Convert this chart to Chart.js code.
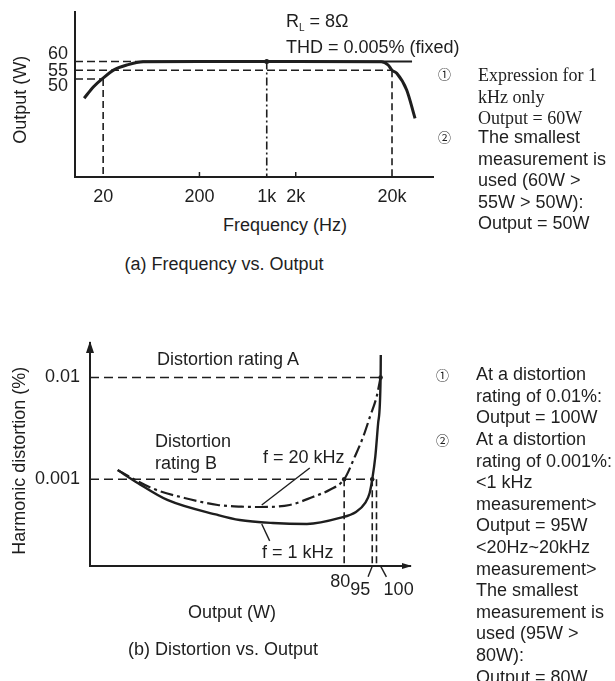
<!DOCTYPE html>
<html>
<head>
<meta charset="utf-8">
<script src="https://cdn.jsdelivr.net/npm/chart.js@4.4.1/dist/chart.umd.min.js"></script>
<style>
html, body { margin: 0; padding: 0; background: #fff; }
body {
  width: 615px; height: 681px; position: relative; overflow: hidden;
  font-family: "Liberation Sans", Arial, sans-serif; font-size: 18px;
  line-height: 21.6px; color: #1e1e1e;
}
.t { position: absolute; white-space: nowrap; }
.c { text-align: center; }
.serif { font-family: "Liberation Serif", "Times New Roman", serif; }
.circ { font-family: "Noto Sans CJK JP", "DejaVu Sans", sans-serif; font-size: 13px; line-height: 21.6px; }
.rot { transform: rotate(-90deg); text-align: center; }
canvas { position: absolute; left: 0; }
</style>
</head>
<body>
<canvas id="freqChart" width="440" height="215" style="top:0"></canvas>
<canvas id="thdChart" width="440" height="280" style="top:330px"></canvas>

<!-- (a) texts -->
<div class="t" style="left:286px;top:11px">R<span style="font-size:10px;vertical-align:-4px">L</span> = 8Ω</div>
<div class="t" style="left:286px;top:37px">THD = 0.005% (fixed)</div>
<div class="t rot" style="left:-44px;top:89px;width:130px">Output (W)</div>
<div class="t c" style="left:185px;top:215px;width:200px">Frequency (Hz)</div>
<div class="t c" style="left:104px;top:254px;width:240px">(a) Frequency vs. Output</div>
<div class="t circ" style="left:438px;top:63px">①</div>
<div class="t serif" style="left:478px;top:65px">Expression for 1<br>kHz only<br>Output = 60W</div>
<div class="t circ" style="left:438px;top:126px">②</div>
<div class="t" style="left:478px;top:127px">The smallest<br>measurement is<br>used (60W &gt;<br>55W &gt; 50W):<br>Output = 50W</div>

<!-- (b) texts -->
<div class="t" style="left:157px;top:349px">Distortion rating A</div>
<div class="t" style="left:155px;top:431px">Distortion<br>rating B</div>
<div class="t" style="left:263px;top:447px">f = 20 kHz</div>
<div class="t" style="left:262px;top:542px">f = 1 kHz</div>
<div class="t rot" style="left:-95px;top:450px;width:230px">Harmonic distortion (%)</div>
<div class="t c" style="left:132px;top:602px;width:200px">Output (W)</div>
<div class="t c" style="left:98px;top:639px;width:250px">(b) Distortion vs. Output</div>
<div class="t circ" style="left:436px;top:364px">①</div>
<div class="t" style="left:476px;top:364px">At a distortion<br>rating of 0.01%:<br>Output = 100W</div>
<div class="t circ" style="left:436px;top:429px">②</div>
<div class="t" style="left:476px;top:429px">At a distortion<br>rating of 0.001%:<br>&lt;1 kHz<br>measurement&gt;<br>Output = 95W<br>&lt;20Hz~20kHz<br>measurement&gt;<br>The smallest<br>measurement is<br>used (95W &gt;<br>80W):<br>Output = 80W</div>

<script>
// (a) Frequency vs. Output
const freqHz  = [12.7, 15.9, 20, 25.6, 35.2, 52.4, 200, 1000, 2000, 15500, 18200, 20000, 22400, 28400, 34700];
const outputW = [39, 45.6, 50.5, 55.1, 58, 59.9, 60, 60, 60, 59.9, 58, 55, 53.3, 43.7, 27.5];
const plateauHz = [50, 32300];
const plateauW  = [60, 60];
const guideLevelsW = [60, 55, 50];
const guideEndsHz  = [50, 20000, 20];
const dropHz    = [20, 1000, 20000];
const dropFromW = [50, 60, 55];
const freqTickValues = [20, 200, 1000, 2000, 20000];
const freqTickLabels = ['20', '200', '1k', '2k', '20k'];
const freqMinorTicks = [200, 2000];
const outTickValues = [60, 55, 50];
const freqRange = [10.2, 53300];
const outRange  = [-6, 88.3];

// (b) Distortion vs. Output
const out1kW = [20.0, 22.6, 27.1, 36.9, 42.2, 51.7, 63.7, 77.9, 86.0, 91.0, 93.5, 95.0, 96.8, 98.5, 100, 100.1];
const thd1k  = [0.00123, 0.00092, 0.000626, 0.000446, 0.000398, 0.000372, 0.000364, 0.000417, 0.000477, 0.000585, 0.000734, 0.001, 0.00167, 0.00357, 0.0101, 0.0166];
const out20kW = [20.0, 24.6, 30.1, 36.9, 42.7, 47.7, 57.3, 66.0, 73.3, 80, 85.4, 89.9, 93.7, 97.6, 100];
const thd20k  = [0.00123, 0.00082, 0.000655, 0.000559, 0.000538, 0.000534, 0.000559, 0.00067, 0.00079, 0.001, 0.00167, 0.00262, 0.00412, 0.00648, 0.0101];
const ratingLevels = [0.01, 0.001];
const ratingEndsW  = [100, 95];
const dropW       = [80, 95, 97.5];
const dropFromThd = [0.001, 0.001, 0.001];
const lead20kW = [64.8, 48.3], lead20kThd = [0.00129, 0.000559];
const lead1kW  = [50.7, 48.3], lead1kThd  = [0.000248, 0.000364];
const ptr95W   = [92.6, 95],   ptr95Thd   = [0.00011, 0.00014];
const ptr100W  = [103.6, 100], ptr100Thd  = [0.00011, 0.00014];
const markW   = [80, 95, 100];
const markThd = [0.001, 0.001, 0.01];
const thdTickValues = [0.01, 0.001];
const thdTickLabels = ['0.01', '0.001'];
const wTickValues = [80, 95, 100];
const wRange   = [16.88, 119.7];
const thdRange = [1.406e-4, 0.0218];

const ink = '#1e1e1e';
const labelFont = '18px "Liberation Sans", Arial, sans-serif';

function seg(xs, ys, extra) {
  return Object.assign({
    data: xs.map((x, i) => ({ x: x, y: ys[i] })),
    showLine: true, pointRadius: 0, borderColor: ink, borderWidth: 1.6,
    fill: false
  }, extra || {});
}

function axis(type, range, pos) {
  return {
    type: type, position: pos, min: range[0], max: range[1],
    grid: { display: false },
    border: { display: true, color: ink, width: 2 },
    ticks: { display: false },
    afterFit: s => { if (pos === 'left') s.width = 0; else s.height = 0; }
  };
}

// draws tick texts at the scale positions, with small offsets like the drawing
function axisText(cfg) {
  return {
    id: 'axisText',
    afterDraw(chart) {
      const ctx = chart.ctx, a = chart.chartArea, sx = chart.scales.x, sy = chart.scales.y;
      ctx.save();
      ctx.fillStyle = ink; ctx.strokeStyle = ink;
      ctx.font = labelFont; ctx.textBaseline = 'middle';
      ctx.textAlign = 'center';
      cfg.x.forEach(t => ctx.fillText(t.text, sx.getPixelForValue(t.v) + (t.dx || 0), a.bottom + t.dy));
      ctx.textAlign = 'right';
      cfg.y.forEach(t => ctx.fillText(t.text, a.left + t.dx, sy.getPixelForValue(t.v) + (t.dy || 0)));
      ctx.lineWidth = 1.5;
      (cfg.minor || []).forEach(v => {
        const px = sx.getPixelForValue(v);
        ctx.beginPath(); ctx.moveTo(px, a.bottom); ctx.lineTo(px, a.bottom - 5); ctx.stroke();
      });
      if (cfg.arrows) {
        ctx.beginPath();
        ctx.moveTo(a.left, a.top - 2); ctx.lineTo(a.left - 4, a.top + 10); ctx.lineTo(a.left + 4, a.top + 10);
        ctx.closePath(); ctx.fill();
        ctx.beginPath();
        ctx.moveTo(a.right + 2, a.bottom); ctx.lineTo(a.right - 8, a.bottom - 3); ctx.lineTo(a.right - 8, a.bottom + 3);
        ctx.closePath(); ctx.fill();
      }
      ctx.restore();
    }
  };
}

const commonOpts = {
  responsive: false, animation: false,
  plugins: { legend: { display: false }, tooltip: { enabled: false } },
  elements: { line: { tension: 0 } }
};

// ---- chart (a)
const topSets = [
  seg(freqHz, outputW, { borderWidth: 3, cubicInterpolationMode: 'monotone' }),
  seg(plateauHz, plateauW, { borderWidth: 2 })
];
guideLevelsW.forEach((w, i) => {
  topSets.push(seg([freqRange[0], guideEndsHz[i]], [w, w], { borderDash: [8, 4] }));
});
dropHz.forEach((f, i) => {
  topSets.push(seg([f, f], [dropFromW[i], outRange[0]], { borderDash: i === 1 ? [8, 3, 2, 3] : [7, 4] }));
});
topSets.push({ data: [{ x: 1000, y: 60 }], showLine: false, pointRadius: 2.5, pointBackgroundColor: ink, pointBorderWidth: 0 });

new Chart(document.getElementById('freqChart'), {
  type: 'scatter',
  data: { datasets: topSets },
  options: Object.assign({}, commonOpts, {
    layout: { padding: { left: 75, top: 12, right: 7, bottom: 38 } },
    scales: { x: axis('logarithmic', freqRange, 'bottom'), y: axis('linear', outRange, 'left') }
  }),
  plugins: [axisText({
    x: freqTickValues.map((v, i) => ({ v: v, text: freqTickLabels[i], dy: 20 })),
    y: outTickValues.map((v, i) => ({ v: v, text: String(v), dx: -7, dy: [-7.5, 0.5, 7][i] })),
    minor: freqMinorTicks
  })]
});

// ---- chart (b)
const botSets = [
  seg(out1kW, thd1k, { borderWidth: 2.4, cubicInterpolationMode: 'monotone' }),
  seg(out20kW, thd20k, { borderWidth: 2.2, borderDash: [13, 4, 3, 4], cubicInterpolationMode: 'monotone' })
];
ratingLevels.forEach((d, i) => {
  botSets.push(seg([wRange[0], ratingEndsW[i]], [d, d], { borderDash: [9, 5] }));
});
dropW.forEach((w, i) => {
  botSets.push(seg([w, w], [dropFromThd[i], thdRange[0]], { borderDash: [7, 4] }));
});
botSets.push(seg(lead20kW, lead20kThd, { borderWidth: 1.4 }));
botSets.push(seg(lead1kW, lead1kThd, { borderWidth: 1.4 }));
botSets.push(seg(ptr95W, ptr95Thd, { borderWidth: 1.4, clip: false }));
botSets.push(seg(ptr100W, ptr100Thd, { borderWidth: 1.4, clip: false }));
botSets.push({ data: markW.map((w, i) => ({ x: w, y: markThd[i] })), showLine: false, pointRadius: 2.2, pointBackgroundColor: ink, pointBorderWidth: 0 });

new Chart(document.getElementById('thdChart'), {
  type: 'scatter',
  data: { datasets: botSets },
  options: Object.assign({}, commonOpts, {
    layout: { padding: { left: 90, top: 13, right: 30, bottom: 44 } },
    scales: { x: axis('logarithmic', wRange, 'bottom'), y: axis('logarithmic', thdRange, 'left') }
  }),
  plugins: [axisText({
    x: wTickValues.map((v, i) => ({ v: v, text: String(v), dx: [-4, -12, 18][i], dy: [16, 24, 24][i] })),
    y: thdTickValues.map((v, i) => ({ v: v, text: thdTickLabels[i], dx: -10 })),
    arrows: true
  })]
});
</script>
</body>
</html>
